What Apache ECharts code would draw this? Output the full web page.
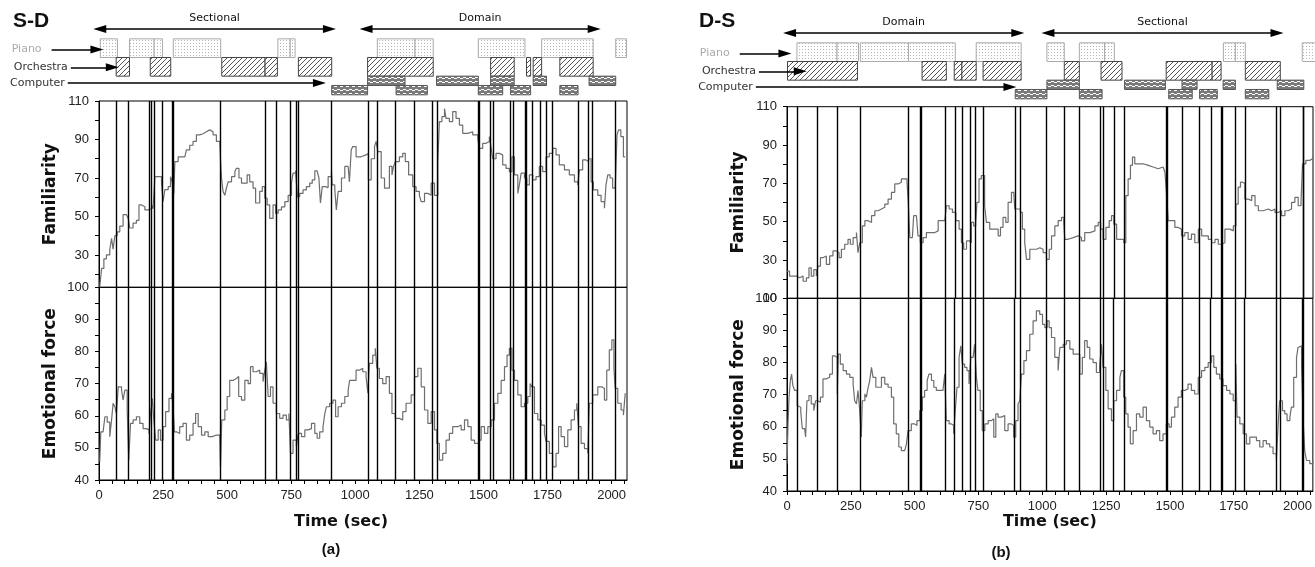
<!DOCTYPE html>
<html><head><meta charset="utf-8">
<script src="https://cdn.jsdelivr.net/npm/echarts@6/dist/echarts.min.js"></script>
<style>html,body{margin:0;padding:0;background:#fff}#c{width:1315px;height:567px}</style>
</head><body><div id="c"></div>
<script>
// ---------- DATA (time in seconds, ratings) ----------
const xLabelValues = [0,250,500,750,1000,1250,1500,1750,2000];
const famLabelsLeft = [30,50,70,90,110];
const famLabelsRight = [10,30,50,70,90,110];
const emoLabels = [40,50,60,70,80,90,100];

const leftFamiliarity = [[3,13.6],[10,23],[19,28],[29,30],[42,32.7],[49,38.7],[55,33],[62,40],[71,42],[81,45],[94,51],[107,51],[114,49],[120,44],[133,46.5],[146,48],[156,56],[166,55],[179,53.4],[192,54],[205,56],[211,54],[218,70.7],[231,70.7],[244,67],[250,57.7],[257,64],[270,65.5],[279,70.7],[286,68],[292,62],[296,78.5],[309,81],[322,81],[335,81],[341,84.6],[354,87],[367,89],[380,92.4],[393,93],[406,94],[419,95],[432,94],[445,92.4],[458,89],[471,88],[475,76.8],[478,70],[484,63],[491,61],[497,64.7],[504,68],[517,70.7],[530,73.3],[536,75],[546,70],[556,67.3],[569,67.3],[578,71.6],[588,68],[601,64.7],[611,57],[627,63],[637,65.5],[647,59.5],[656,56],[666,49],[679,56],[689,51.7],[699,53.4],[712,55],[725,57.7],[738,61],[751,67.3],[757,72.5],[767,73.7],[774,60.3],[783,62],[796,63.8],[809,65.5],[822,67.3],[832,69],[842,73.7],[851,74.2],[858,70],[864,57],[871,65.5],[884,65],[894,70.7],[907,73.3],[910,66.4],[920,63.8],[926,53.4],[933,63],[946,70],[959,76],[972,76.8],[977,68],[984,84.6],[990,86.3],[1003,81],[1022,82],[1042,82.8],[1051,69],[1062,80],[1075,86.3],[1081,89],[1088,83.7],[1101,70],[1114,64.7],[1120,64.7],[1133,76],[1143,71.6],[1149,76],[1156,78.5],[1172,81],[1185,82.8],[1195,78.5],[1208,71.6],[1224,65.5],[1237,63],[1250,61],[1257,57.7],[1270,62],[1283,61],[1296,67.3],[1309,61],[1315,61],[1322,78.5],[1328,99.3],[1338,101.9],[1348,106],[1354,101],[1367,99.3],[1380,104.5],[1393,101],[1406,97.5],[1419,93.2],[1439,94],[1458,92.4],[1478,90.6],[1484,85.4],[1497,88],[1510,89],[1523,91.5],[1530,85.4],[1536,80],[1549,82.8],[1562,82],[1575,76.8],[1588,75],[1601,73.3],[1611,81],[1621,71.6],[1634,62],[1640,66.4],[1647,72.5],[1660,70],[1669,66.4],[1679,71.6],[1692,69],[1705,70.7],[1718,76],[1731,73.3],[1744,81],[1757,82.8],[1770,85.4],[1783,82],[1796,76.8],[1816,74.2],[1835,71.6],[1855,68],[1868,66.4],[1874,74.2],[1887,79.4],[1900,78.5],[1910,80],[1920,68],[1929,63.8],[1946,61],[1959,57.7],[1972,54.3],[1978,66.4],[1985,71.6],[1994,70],[2004,64.7],[2014,64.7],[2021,92.4],[2027,95],[2036,91.5],[2046,81],[2053,81]];

const leftEmotion = [[3,45.7],[7,55],[16,54.5],[23,59.7],[32,58],[42,53.5],[49,58.7],[55,63.9],[62,62.8],[68,60.7],[75,69],[88,68],[94,64.9],[101,68],[110,61.8],[116,46.2],[123,57.6],[133,58.7],[146,59.7],[159,57.6],[172,56],[185,55.6],[195,54.5],[201,60.7],[208,65.4],[214,58.7],[221,52.4],[231,55.6],[240,52.4],[250,56.6],[260,61.3],[273,65.4],[283,67],[289,62.8],[294,55],[302,54.5],[315,56.6],[328,57.6],[341,52.4],[354,54],[367,57.6],[377,60.7],[387,56.6],[400,54],[413,55],[426,53.5],[442,54],[458,54],[471,53.5],[474,44],[479,58.7],[491,61.8],[500,66],[510,71],[523,71.6],[536,72.2],[545,66],[556,64.9],[569,71],[582,70],[591,75.3],[601,73.7],[614,74.2],[627,73.2],[640,70.6],[647,74.2],[653,76.8],[660,66],[669,69],[679,63.9],[692,60.7],[705,59.2],[718,60.2],[731,58.7],[741,60.7],[747,48.3],[757,52.4],[770,50.4],[777,54.5],[790,53.5],[803,55.6],[816,56],[829,57.6],[842,54.5],[851,53],[861,55],[874,56.6],[881,60.7],[887,62.8],[900,63.9],[913,64.9],[923,59.7],[933,62.8],[946,63.9],[959,66],[972,68],[978,71],[990,71],[1003,74.2],[1016,74.8],[1029,73.7],[1042,72.2],[1049,67],[1055,76.3],[1068,78.9],[1078,81],[1084,74.8],[1094,71.6],[1107,70],[1120,72.2],[1133,67],[1143,60.7],[1156,59.2],[1172,58.7],[1185,61.3],[1198,63.9],[1218,66.5],[1231,72.2],[1244,74.8],[1257,69],[1270,61.8],[1283,57.6],[1296,61.3],[1309,55.6],[1318,51.4],[1328,46.2],[1341,48.3],[1354,52.4],[1367,54.5],[1380,56.6],[1400,57.1],[1413,55.6],[1426,58.7],[1439,56.6],[1452,52.4],[1465,51.4],[1481,52.4],[1491,56.6],[1504,54.5],[1517,56.6],[1530,58.7],[1543,63.9],[1556,67],[1569,71],[1582,75.3],[1592,78.9],[1601,81],[1611,74.2],[1621,71],[1634,66.5],[1647,62.8],[1660,63.9],[1673,66],[1682,70],[1689,69],[1699,60.7],[1712,58.7],[1725,57.1],[1738,54.5],[1744,52],[1757,48.3],[1770,44.1],[1783,48.3],[1793,56.6],[1803,53.5],[1816,50.4],[1829,55.6],[1842,58.7],[1855,61.8],[1864,63.9],[1871,56.6],[1881,51.4],[1894,49.8],[1907,48.3],[1913,63.9],[1926,66.5],[1946,69],[1962,68.5],[1972,64.9],[1981,74.2],[1991,80.5],[2001,83.6],[2009,74.8],[2014,68.5],[2024,63.9],[2037,61.8],[2046,60.2],[2053,67]];

const rightFamiliarity = [[0,24.2],[10,21.6],[23,21.6],[37,20.7],[50,21.6],[63,18.9],[76,20.7],[86,25.9],[95,21.6],[105,25],[115,21.6],[121,26.8],[131,31.2],[141,32.1],[154,27.7],[167,32.1],[180,34.7],[193,33.8],[204,31.2],[213,35.6],[226,38.2],[239,40.8],[248,38.2],[259,41.7],[272,44.3],[278,33.8],[285,39],[295,47.8],[305,50.5],[318,49.6],[331,53.1],[344,55.7],[357,56.6],[370,57.5],[383,59.2],[396,61.8],[409,65.3],[422,69.7],[435,70.6],[448,72.3],[461,72.3],[470,70.6],[475,60.1],[481,41.7],[491,42.6],[496,53.1],[507,53.1],[513,42.6],[522,39],[533,41.7],[546,44.3],[559,44.3],[579,45.2],[592,50.5],[605,50.5],[618,49.6],[624,58.3],[635,56.6],[648,54.8],[661,50.5],[674,46.1],[683,39],[692,35.6],[703,40],[713,39],[722,49.6],[731,47.8],[739,49.6],[744,60.1],[752,72.3],[761,74.1],[768,74.1],[774,58.3],[781,49.6],[794,46.1],[810,46.1],[827,42.6],[836,47],[846,52.2],[857,49.6],[866,60.1],[879,65.3],[888,66.2],[892,56.6],[905,56.6],[914,54.8],[922,46.1],[931,39],[938,30.3],[951,35.6],[964,35.6],[977,36.4],[990,35.6],[1003,33.8],[1016,30.3],[1027,35.6],[1036,42.6],[1049,47.8],[1062,50.5],[1075,52.2],[1084,49.6],[1088,40.8],[1101,41.7],[1121,42.6],[1140,41.7],[1153,40],[1166,44.3],[1186,45.2],[1206,47.8],[1219,49.6],[1228,46.1],[1238,40.8],[1249,47],[1262,50.5],[1271,53.1],[1280,48.7],[1291,40.8],[1310,40.8],[1319,39],[1327,63.6],[1336,72.3],[1345,79.4],[1353,83.7],[1362,80.2],[1382,80.2],[1395,79.4],[1415,78.5],[1434,77.6],[1454,78.5],[1473,77.6],[1480,75.8],[1486,65.3],[1493,50.5],[1506,50.5],[1519,47],[1532,46.1],[1545,42.6],[1558,44.3],[1571,40.8],[1584,43.5],[1597,39],[1611,46.1],[1624,42.6],[1637,42.6],[1650,40.8],[1663,39],[1676,40.8],[1689,38.2],[1702,39],[1715,46.1],[1735,45.2],[1748,47.8],[1758,59.2],[1767,68],[1776,70.6],[1784,70],[1793,61.8],[1806,61],[1820,63.6],[1833,58.3],[1846,55.7],[1865,56.6],[1885,55.7],[1898,56.6],[1911,54.8],[1924,55.7],[1937,53.1],[1950,55.7],[1963,56.6],[1976,60.1],[1989,62.7],[2002,58.3],[2013,60.1],[2019,80.2],[2032,82],[2048,82.9],[2060,83.7]];

const rightEmotion = [[0,48.5],[4,60.9],[8,69.2],[13,74.4],[18,76.4],[23,72.8],[30,71.3],[37,71.3],[40,66.6],[47,66.1],[54,64.5],[60,59.4],[69,58.8],[73,56.8],[78,68.1],[86,69.7],[95,67.1],[105,65],[112,68.1],[121,67.6],[131,69.2],[141,74.9],[154,75.4],[167,76.4],[178,82.1],[187,82.6],[193,81.6],[197,70.2],[201,82.6],[209,79.5],[220,77.5],[233,76.4],[246,75.4],[259,73.3],[265,68.1],[272,67.1],[278,71.3],[285,65],[291,56.8],[295,68.1],[305,70.2],[311,69.2],[318,72.3],[324,74.4],[331,78.5],[337,75.4],[348,72.3],[357,72.3],[370,75.4],[383,73.3],[396,72.3],[409,69.2],[418,60.9],[428,57.8],[438,53.7],[448,52.6],[461,52.6],[468,54.7],[474,58.8],[487,60.9],[500,60.4],[509,61.9],[520,65],[530,69.2],[539,71.3],[549,74.4],[556,76.4],[566,74.4],[575,72.3],[585,71.3],[598,71.3],[611,70.7],[618,76.4],[624,61.9],[635,60.9],[644,60.4],[653,57.8],[660,66.1],[666,72.3],[674,81.6],[681,85.2],[687,79.5],[696,78.5],[705,77.5],[713,73.3],[720,81.6],[729,81.6],[735,85.7],[742,75.4],[748,71.3],[757,65],[765,58.8],[775,60.9],[788,61.9],[801,62.5],[810,56.8],[818,64],[827,63],[840,63.5],[853,58.8],[866,60.9],[879,60.4],[888,56.8],[896,61.9],[905,67.1],[912,68.1],[918,76.4],[928,80.6],[938,83.7],[951,88.8],[964,93],[977,96.1],[990,95],[1001,91.9],[1010,90.9],[1019,93],[1027,90.9],[1036,87.8],[1049,81.6],[1062,77.5],[1069,84.7],[1082,85.7],[1095,86.8],[1108,84.2],[1121,82.6],[1134,82.6],[1147,76.4],[1157,81.6],[1166,86.8],[1176,84.7],[1186,81.1],[1199,80],[1212,76.9],[1225,79],[1232,85.7],[1238,78.5],[1249,71.3],[1258,65.6],[1271,61.9],[1280,68.1],[1291,71.3],[1304,75.4],[1310,77.5],[1319,69.2],[1327,64],[1336,59.9],[1345,54.7],[1356,58.8],[1369,64],[1382,63],[1395,66.1],[1408,61.9],[1421,59.9],[1434,57.8],[1447,58.8],[1460,55.7],[1473,57.8],[1486,60.9],[1497,59.9],[1506,63],[1519,66.1],[1532,69.2],[1545,71.3],[1558,71.8],[1571,73.3],[1584,71.3],[1597,70.2],[1611,75.4],[1624,77.5],[1637,78.5],[1650,80],[1663,82.1],[1672,78.5],[1682,76.4],[1695,74.9],[1708,72.8],[1722,71.3],[1735,70.2],[1748,68.1],[1758,79.5],[1763,63],[1774,60.9],[1787,57.8],[1800,54.7],[1813,56.8],[1826,56.8],[1839,55.7],[1852,53.7],[1865,55.7],[1878,54.7],[1891,53.7],[1904,51.6],[1917,49.5],[1924,60.9],[1930,68.1],[1941,65],[1950,64],[1959,61.9],[1970,63],[1976,66.1],[1985,75.4],[1996,81.6],[2002,84.7],[2009,85.2],[2016,78.5],[2022,61.9],[2028,52.6],[2035,49.5],[2048,48.5],[2060,49.5]];

const leftEvents = [69,116,198,205,217,247,286,291,474,647,693,745,771,776,907,1049,1084,1157,1230,1302,1318,1479,1484,1527,1538,1604,1618,1662,1666,1690,1721,1744,1769,1869,1908,1926,2014];
const rightEvents = [39,118,197,286,474,523,527,621,657,687,717,739,767,892,912,1016,1085,1143,1228,1238,1280,1321,1484,1490,1547,1613,1660,1700,1706,1755,1793,1918,1931,2020,2022];

// instrument segments [start, end]
const leftPiano = [[3,70],[117,213],[213,246],[288,473],[696,744],[744,763],[1084,1231],[1231,1302],[1478,1660],[1725,1926],[2014,2056]];
const leftOrchestra = [[65,117],[198,278],[477,646],[646,694],[776,906],[1046,1302],[1526,1618],[1666,1682],[1692,1725],[1796,1926]];
const leftComputerA = [[1046,1192],[1315,1478],[1526,1618],[1692,1744],[1910,2014]];
const leftComputerB = [[906,1046],[1157,1279],[1478,1573],[1604,1682],[1796,1867]];
const rightPiano = [[37,194],[194,278],[285,474],[474,657],[739,915],[1016,1084],[1143,1242],[1242,1280],[1707,1754],[1754,1793],[2016,2068]];
const rightOrchestra = [[0,274],[527,622],[653,683],[683,739],[766,915],[1084,1143],[1228,1310],[1483,1663],[1663,1698],[1793,1930]];
const rightComputerA = [[1016,1143],[1320,1480],[1545,1604],[1706,1754],[1918,2022]];
const rightComputerB = [[892,1016],[1143,1232],[1493,1585],[1614,1683],[1793,1885]];

const leftSections = [['Sectional',3,899],['Domain',1042,1932]];
const rightSections = [['Domain',10,904],['Sectional',1022,1919]];
const leftComputerArrowEnd = 860;
const rightComputerArrowEnd = 873;

// ---------- LAYOUT ----------
const XMAX = 2060, HMIN = -360;
const P = [
  {left:99, w:528, top:101, mid:287.3, bottom:480, head:29, famMin:13.2, famLabels:famLabelsLeft, events:leftEvents,
   fam:leftFamiliarity, emo:leftEmotion, segs:[leftPiano,leftOrchestra,leftComputerA,leftComputerB], sections:leftSections,
   compEnd:leftComputerArrowEnd, title:'S-D', titleX:13, tag:'(a)', tagX:331, tagY:550, nameGapX:34, namePad:[0,44,0,0]},
  {left:787, w:526, top:106.7, mid:298.3, bottom:491, head:33, famMin:10, famLabels:famLabelsRight, events:rightEvents,
   fam:rightFamiliarity, emo:rightEmotion, segs:[rightPiano,rightOrchestra,rightComputerA,rightComputerB], sections:rightSections,
   compEnd:rightComputerArrowEnd, title:'D-S', titleX:699, tag:'(b)', tagX:1001, tagY:553, nameGapX:20, namePad:[0,0,0,0]}
];
const UNIT = 9.33; // header row unit (px)
const LANES = [[1,3],[3,5],[5,6],[6,7]];

function mkPattern(w,h,draw){const c=document.createElement('canvas');c.width=w;c.height=h;const g=c.getContext('2d');g.fillStyle='#fff';g.fillRect(0,0,w,h);draw(g);return {image:c,repeat:'repeat'};}
const patPiano = mkPattern(3,3,g=>{g.fillStyle='#b4b4b4';g.fillRect(1,1,1,1);});
const patOrch = mkPattern(5,5,g=>{g.fillStyle='#555';for(let i=0;i<5;i++)g.fillRect(i,4-i,1,1);});
const patComp = mkPattern(6,4,g=>{g.fillStyle='#7a7a7a';g.fillRect(0,0,6,4);g.fillStyle='#fff';g.fillRect(1,1,2,1);g.fillRect(4,2,2,1);g.fillRect(3,1,1,1);g.fillRect(0,2,1,1);});
const FILLS = [patPiano,patOrch,patComp,patComp];
const STROKES = ['#aaa','#444','#555','#555'];

const grid=[], xAxis=[], yAxis=[], series=[], graphic=[];
const FONT = 'Liberation Sans';
function ticks(a,b,s){const r=[];for(let v=a;v<=b+1e-9;v+=s)r.push(v);return r;}

P.forEach((p,i)=>{
  const k = p.w/XMAX;
  const g0 = grid.length;
  grid.push({left:p.left, top:p.top, width:p.w, height:p.mid-p.top, show:true, borderColor:'#000', borderWidth:1});
  grid.push({left:p.left, top:p.mid, width:p.w, height:p.bottom-p.mid, show:true, borderColor:'#000', borderWidth:1});
  grid.push({left:p.left+HMIN*k, top:p.head, width:(XMAX-HMIN)*k, height:7*UNIT});
  // x axes
  xAxis.push({gridIndex:g0, type:'value', min:0, max:XMAX, axisLine:{show:false}, axisTick:{show:false}, axisLabel:{show:false}, splitLine:{show:false}});
  xAxis.push({gridIndex:g0+1, type:'value', min:0, max:XMAX, axisLine:{lineStyle:{color:'#000'}},
    axisTick:{customValues:ticks(0,2050,50), length:4, lineStyle:{color:'#000'}},
    axisLabel:{customValues:xLabelValues, formatter:v=>String(v), color:'#222', fontSize:13, fontFamily:FONT, margin:9},
    splitLine:{show:false}, name:'Time (sec)', nameLocation:'middle', nameGap:p.nameGapX,
    nameTextStyle:{fontFamily:'DejaVu Sans', fontWeight:'bold', fontSize:16, color:'#111', padding:p.namePad}});
  xAxis.push({gridIndex:g0+2, type:'value', min:HMIN, max:XMAX, show:false});
  // y axes
  yAxis.push({gridIndex:g0, type:'value', min:p.famMin, max:110, axisLine:{lineStyle:{color:'#000'}},
    axisTick:{customValues:ticks(20,110,10), length:4, lineStyle:{color:'#000'}},
    axisLabel:{customValues:p.famLabels, color:'#222', fontSize:13, fontFamily:FONT, margin:10},
    splitLine:{show:false}, name:'Familiarity', nameLocation:'middle', nameGap:40, nameRotate:90,
    nameTextStyle:{fontFamily:'DejaVu Sans', fontWeight:'bold', fontSize:17, color:'#111'}});
  yAxis.push({gridIndex:g0+1, type:'value', min:40, max:100, axisLine:{lineStyle:{color:'#000'}},
    axisTick:{customValues:ticks(40,100,5), length:4, lineStyle:{color:'#000'}},
    axisLabel:{customValues:emoLabels, color:'#222', fontSize:13, fontFamily:FONT, margin:10},
    splitLine:{show:false}, name:'Emotional force', nameLocation:'middle', nameGap:40, nameRotate:90,
    nameTextStyle:{fontFamily:'DejaVu Sans', fontWeight:'bold', fontSize:17, color:'#111'}});
  yAxis.push({gridIndex:g0+2, type:'value', min:0, max:7, inverse:true, show:false});

  const ev = {silent:true, symbol:'none', label:{show:false}, lineStyle:{color:'#000', width:1.4, type:'solid', opacity:1},
    emphasis:{disabled:true}, data:p.events.map(t=>({xAxis:t}))};
  series.push({type:'line', xAxisIndex:g0, yAxisIndex:g0, data:p.fam, showSymbol:false, symbol:'none', clip:true, step:'end',
    lineStyle:{color:'#6e6e6e', width:1.2}, markLine:ev, z:2});
  series.push({type:'line', xAxisIndex:g0+1, yAxisIndex:g0+1, data:p.emo, showSymbol:false, symbol:'none', clip:true, step:'end',
    lineStyle:{color:'#6e6e6e', width:1.2}, markLine:ev, z:2});

  // header blocks
  const hdata = [];
  p.segs.forEach((arr,lane)=>arr.forEach(s=>hdata.push([s[0],s[1],lane])));
  const lbl = (txt,col,dist)=>({show:true, position:'start', formatter:txt, color:col, fontFamily:'DejaVu Sans', fontSize:11, distance:dist});
  const ml = [];
  p.sections.forEach(s=>ml.push([{coord:[s[1],0], symbol:'triangle', label:{show:true, position:'insideMiddleTop', formatter:s[0], color:'#111', fontFamily:'DejaVu Sans', fontSize:11, distance:5}},{coord:[s[2],0], symbol:'triangle'}]));
  ml.push([{coord:[-185,2.2], symbol:'none', label:lbl('Piano','#aaa',10)},{coord:[-8,2.2], symbol:'triangle'}]);
  ml.push([{coord:[-110,4.1], symbol:'none', label:lbl('Orchestra','#333',3)},{coord:[52,4.1], symbol:'triangle'}]);
  ml.push([{coord:[-122,5.8], symbol:'none', label:lbl('Computer','#333',3)},{coord:[p.compEnd,5.8], symbol:'triangle'}]);
  series.push({type:'custom', xAxisIndex:g0+2, yAxisIndex:g0+2, data:hdata, silent:true,
    renderItem:(params,api)=>{
      const s=api.value(0), e=api.value(1), lane=api.value(2), b=LANES[lane];
      const a=api.coord([s,b[0]]), c=api.coord([e,b[1]]);
      return {type:'rect', shape:{x:a[0]+0.5, y:a[1]+0.5, width:c[0]-a[0], height:c[1]-a[1]},
        style:{fill:FILLS[lane], stroke:STROKES[lane], lineWidth:1}};
    },
    markLine:{silent:true, symbolSize:[8,13], label:{show:false}, lineStyle:{color:'#000', width:1.5, type:'solid'}, emphasis:{disabled:true}, data:ml}
  });

  graphic.push({type:'text', left:p.titleX, top:11, style:{text:p.title, font:'bold 21px "Liberation Sans"', fill:'#111'}});
  graphic.push({type:'text', x:p.tagX, y:p.tagY, style:{text:p.tag, font:'bold 15px "Liberation Sans"', fill:'#111', align:'center', verticalAlign:'middle'}});
});

const chart = echarts.init(document.getElementById('c'), null, {renderer:'canvas'});
chart.setOption({animation:false, grid, xAxis, yAxis, series, graphic});
</script></body></html>
